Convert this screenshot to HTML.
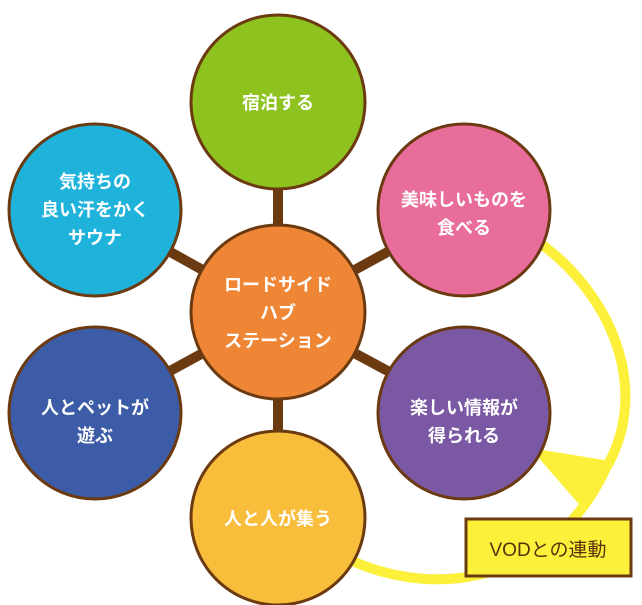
<!DOCTYPE html>
<html><head><meta charset="utf-8"><style>
html,body{margin:0;padding:0;background:#fff;}
svg{display:block}
text{font-family:"Liberation Sans","Noto Sans CJK JP",sans-serif;font-weight:bold;fill:#fff;font-size:18px;text-anchor:middle}
</style></head><body>
<svg width="642" height="605" viewBox="0 0 642 605" xmlns="http://www.w3.org/2000/svg">
<path d="M530,236 C612,290 652,390 606,468 C560,570 450,605 350,560" fill="none" stroke="#fdf03a" stroke-width="10"/>
<polygon points="530,448 610,461 584,510" fill="#fdf03a"/>
<g stroke="#6b3a10" stroke-width="10">
<line x1="278" y1="312" x2="278" y2="102"/>
<line x1="278" y1="312" x2="278" y2="518"/>
<line x1="278" y1="312" x2="464" y2="210"/>
<line x1="278" y1="312" x2="464" y2="412"/>
<line x1="278" y1="312" x2="95" y2="210"/>
<line x1="278" y1="312" x2="95" y2="412"/>
</g>
<g stroke="#6b3a10" stroke-width="3">
<ellipse cx="278" cy="102" rx="87" ry="87" fill="#8dc21f"/>
<ellipse cx="464" cy="210" rx="86" ry="86" fill="#e96d9a"/>
<ellipse cx="464" cy="413" rx="86" ry="86" fill="#7a58a4"/>
<ellipse cx="278" cy="518" rx="87" ry="87" fill="#f8bd3a"/>
<ellipse cx="95" cy="413" rx="86" ry="86" fill="#3d5ca8"/>
<ellipse cx="95" cy="210" rx="86" ry="86" fill="#1fb3dc"/>
<ellipse cx="278" cy="312" rx="87" ry="87" fill="#ef8636"/>
</g>
<text x="278" y="109">宿泊する</text>
<text x="464" y="206">美味しいものを</text>
<text x="464" y="234">食べる</text>
<text x="464" y="414">楽しい情報が</text>
<text x="464" y="442">得られる</text>
<text x="278" y="525">人と人が集う</text>
<text x="95" y="414">人とペットが</text>
<text x="95" y="442">遊ぶ</text>
<text x="95" y="188">気持ちの</text>
<text x="95" y="216">良い汗をかく</text>
<text x="95" y="244">サウナ</text>
<text x="278" y="291">ロードサイド</text>
<text x="278" y="319">ハブ</text>
<text x="278" y="347">ステーション</text>
<rect x="466" y="519" width="165" height="57" fill="#fdf03a" stroke="#6b3a10" stroke-width="3"/>
<text x="548" y="556" style="fill:#5a300c;font-size:19px;font-weight:normal">VODとの連動</text>
</svg>
</body></html>
